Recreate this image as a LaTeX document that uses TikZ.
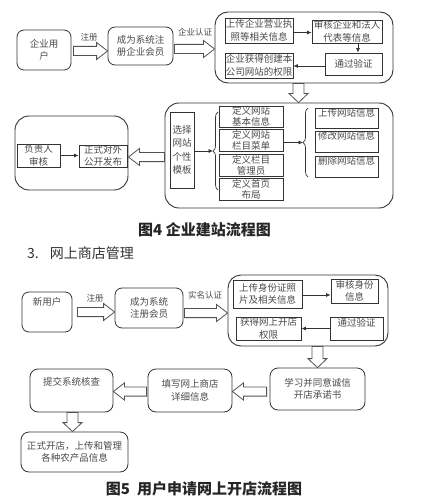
\documentclass[tikz,border=0pt]{standalone}
\usepackage{fontspec}
\setmainfont{Noto Sans CJK SC}
\usetikzlibrary{arrows.meta,calc,decorations.pathreplacing}
\definecolor{ln}{HTML}{333333}
\definecolor{tx}{HTML}{4A4A4A}
\newcommand\sw{4.6pt}
\newcommand\hw{8.5pt}
\newcommand\hl{11pt}
\newcommand\blkright[2]{\draw[blk] let \p1=(#1), \p2=(#2) in
  (\x1,\y1+\sw) -- (\x2-\hl,\y1+\sw) -- (\x2-\hl,\y1+\hw) -- (\x2,\y1) --
  (\x2-\hl,\y1-\hw) -- (\x2-\hl,\y1-\sw) -- (\x1,\y1-\sw) -- cycle;}
\newcommand\blkleft[2]{\draw[blk] let \p1=(#1), \p2=(#2) in
  (\x1,\y1+\sw) -- (\x2+\hl,\y1+\sw) -- (\x2+\hl,\y1+\hw) -- (\x2,\y1) --
  (\x2+\hl,\y1-\hw) -- (\x2+\hl,\y1-\sw) -- (\x1,\y1-\sw) -- cycle;}
\newcommand\blkdown[2]{\draw[blk] let \p1=(#1), \p2=(#2) in
  (\x1-5.5pt,\y1) -- (\x1-5.5pt,\y2+9pt) -- (\x1-9.5pt,\y2+9pt) -- (\x1,\y2) --
  (\x1+9.5pt,\y2+9pt) -- (\x1+5.5pt,\y2+9pt) -- (\x1+5.5pt,\y1) -- cycle;}
\begin{document}
\begin{tikzpicture}[x=1pt,y=-1pt,
  font=\fontsize{9.5}{12.5}\selectfont, text=tx,
  rbox/.style={draw=ln, line width=0.8pt, rounded corners=7pt, align=center, inner sep=0pt},
  sbox/.style={draw=ln, line width=0.8pt, align=center, inner sep=0pt},
  cont/.style={draw=ln, line width=0.9pt, rounded corners=13pt, inner sep=0pt},
  blk/.style={draw=ln!85, line width=0.8pt, fill=white},
  arr/.style={draw=ln, line width=0.7pt, -{Latex[length=4.5pt,width=4pt]}},
  brc/.style={draw=ln, line width=0.7pt, decorate, decoration={brace, amplitude=5pt}},
  tight/.style={font=\fontsize{9.5}{11}\selectfont},
  albl/.style={font=\fontsize{8.5}{10}\selectfont, inner sep=0pt},
  toplbl/.style={anchor=north, inner sep=0pt},
  captxt/.style={font=\fontsize{15}{17}\selectfont\bfseries, text=black!85, inner sep=0pt}
]
\useasboundingbox (0,0) rectangle (420,500);

% ---------- Figure 4 ----------
\node[rbox, minimum width=54pt, minimum height=40pt] (u1) at (44,50) {企业用\\户};
\node[rbox, minimum width=65pt, minimum height=38pt] (m1) at (140.5,46) {成为系统注\\册企业会员};
\node[cont, minimum width=178pt, minimum height=71pt] (c1) at (304,47.5) {};
\node[sbox, minimum width=68pt, minimum height=25pt] (a1) at (259,30.5) {上传企业营业执\\照等相关信息};
\node[sbox, minimum width=70pt, minimum height=23pt] (a2) at (347,31.5) {审核企业和法人\\代表等信息};
\node[sbox, minimum width=57pt, minimum height=22pt] (a3) at (353.5,64) {通过验证};
\node[sbox, minimum width=68pt, minimum height=25pt] (a4) at (259,65.5) {企业获得创建本\\公司网站的权限};

\blkright{$(u1.east)+(2,1)$}{m1.west}
\node[albl] (l1) at (89,37) {注册};
\blkright{$(m1.east)+(1,3)$}{c1.west}
\node[albl] (l2) at (195,32) {企业认证};

\draw[arr] ([yshift=-2pt]a1.east) -- ([yshift=-2pt]a2.west |- a1.east);
\draw[arr] ([xshift=4.5pt]a3.north |- a2.south) -- ([xshift=4.5pt]a3.north);
\draw[arr] ([yshift=-2pt]a3.west) -- ([yshift=-2pt]a4.east |- a3.west);

\node[cont, minimum width=228pt, minimum height=105pt, rounded corners=14pt] (c2) at (279,155.5) {};
\blkdown{$(c1.south)+(-5.5,0)$}{c2.north}

\node[sbox, minimum width=24pt, minimum height=76pt, font=\fontsize{9.5}{13.5}\selectfont] (s1) at (182,150) {选择\\网站\\个性\\模板};
\node[sbox, tight, minimum width=64pt, minimum height=21pt] (d1) at (251,116.5) {定义网站\\基本信息};
\node[sbox, tight, minimum width=64pt, minimum height=22pt] (d2) at (251,140) {定义网站\\栏目菜单};
\node[sbox, tight, minimum width=64pt, minimum height=22pt] (d3) at (251,165) {定义栏目\\管理员};
\node[sbox, tight, minimum width=64pt, minimum height=22pt] (d4) at (251,189) {定义首页\\布局};

\coordinate (b1bot) at (218,190);
\coordinate (b1top) at (218,112);
\coordinate (b1tip) at (213,151);
\draw[brc] (b1bot) -- (b1top);
\draw[arr] (s1.east |- b1tip) -- (b1tip);

\coordinate (b2bot) at (308,177);
\coordinate (b2top) at (308,108);
\coordinate (b2tip) at (303,142.5);
\draw[brc] (b2bot) -- (b2top);
\draw[arr] (d2.east |- b2tip) -- (b2tip);

\node[sbox, minimum width=63pt, minimum height=20pt, label={[toplbl, yshift=-0.5pt]north:上传网站信息}] (e1) at (346.5,118) {};
\node[sbox, minimum width=63pt, minimum height=21pt, label={[toplbl, yshift=-1pt]north:修改网站信息}] (e2) at (346.5,141.5) {};
\node[sbox, minimum width=63pt, minimum height=21pt, label={[toplbl, yshift=-1pt]north:删除网站信息}] (e3) at (346.5,166.5) {};

\node[cont, minimum width=113pt, minimum height=74pt, rounded corners=14pt] (c3) at (71.5,153) {};
\blkleft{$(c2.west)+(0,1.5)$}{c3.east}
\node[sbox, minimum width=43pt, minimum height=23pt] (f1) at (38.5,155.5) {负责人\\审核};
\node[sbox, minimum width=48pt, minimum height=22pt] (f2) at (103,156) {正式对外\\公开发布};
\draw[arr] (f1.east) -- (f2.west |- f1.east);

\node[captxt] (cap4) at (204.5,230) {图4 企业建站流程图};
\node[anchor=west, inner sep=0pt, font=\fontsize{14}{16}\selectfont, text=black!80] (h3) at (27,253.5) {3.\hspace{11pt}网上商店管理};

% ---------- Figure 5 ----------
\node[rbox, minimum width=50pt, minimum height=40pt, label={[toplbl, yshift=-6pt]north:新用户}] (g1) at (47,312) {};
\node[rbox, minimum width=68pt, minimum height=40pt] (g2) at (149,308) {成为系统\\注册会员};
\node[cont, minimum width=160pt, minimum height=71pt] (c4) at (308,310.5) {};
\node[sbox, minimum width=69pt, minimum height=28pt] (h1) at (267.5,294) {上传身份证照\\片及相关信息};
\node[sbox, minimum width=47pt, minimum height=24pt] (h2) at (354.5,291) {审核身份\\信息};
\node[sbox, minimum width=65pt, minimum height=23pt] (h3b) at (268.5,328.5) {获得网上开店\\权限};
\node[sbox, minimum width=53pt, minimum height=23pt, label={[toplbl, yshift=-1.5pt]north:通过验证}] (h4) at (356.5,328.5) {};

\blkright{$(g1.east)+(5,0)$}{g2.west}
\node[albl] (l3) at (95,298) {注册};
\blkright{$(g2.east)+(1,5)$}{c4.west}
\node[albl] (l4) at (205,295) {实名认证};

\draw[arr] ([yshift=-1pt]h1.east) -- ([yshift=-1pt]h2.west |- h1.east);
\draw[arr] (h4.west) -- (h3b.east |- h4.west);

\node[rbox, minimum width=95pt, minimum height=42pt, rounded corners=8pt] (k1) at (317.5,389) {学习并同意诚信\\开店承诺书};
\blkdown{c4.south -| k1.north}{k1.north}
\node[rbox, minimum width=84pt, minimum height=43pt, rounded corners=8pt] (k2) at (190,390.5) {填写网上商店\\详细信息};
\node[rbox, minimum width=83pt, minimum height=43pt, rounded corners=8pt, label={[toplbl, yshift=-9pt]north:提交系统核查}] (k3) at (71.5,390.5) {};
\blkleft{$(k1.west)+(-3,2.5)$}{k2.east}
\blkleft{$(k2.west)+(-1,1)$}{k3.east}
\node[rbox, minimum width=107pt, minimum height=40pt, rounded corners=8pt] (k4) at (74.5,452) {正式开店，上传和管理\\各种农产品信息};
\blkdown{$(k3.south)+(1,0)$}{k4.north}

\node[captxt] (cap5) at (204,489) {图5\hspace{7pt}用户申请网上开店流程图};
\end{tikzpicture}
\end{document}
